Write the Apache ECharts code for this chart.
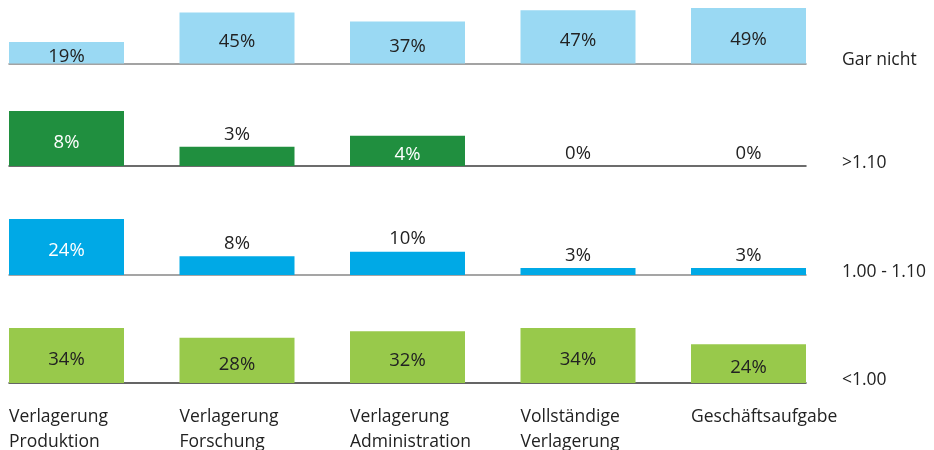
<!DOCTYPE html>
<html><head><meta charset="utf-8">
<script src="https://cdn.jsdelivr.net/npm/echarts@6/dist/echarts.min.js"></script>
<style>html,body{margin:0;padding:0;background:#fff}#c{width:934px;height:450px}</style>
</head><body><div id="c"></div>
<script>
const categories = ['Verlagerung Produktion','Verlagerung Forschung','Verlagerung Administration','Vollständige Verlagerung','Geschäftsaufgabe'];
const rowNames = ['Gar nicht','>1.10','1.00 - 1.10','<1.00'];
const garNicht = [19, 45, 37, 47, 49];
const ueber110 = [8, 2.8, 4.4, 0, 0];
const von100bis110 = [24, 8, 10, 3, 3];
const unter100 = [34, 28, 32, 34, 24];
const rowValues = [garNicht, ueber110, von100bis110, unter100];

const FONT = '"Open Sans", sans-serif';
const TEXT = '#222222';
const rowStyle = [
  {color:'#9ad9f3', line:'#858585', dark:false, top:8,   height:55.5},
  {color:'#208f3f', line:'#3d3d3d', dark:true,  top:111, height:55},
  {color:'#00a9e6', line:'#888888', dark:true,  top:219, height:56},
  {color:'#98c94b', line:'#333333', dark:false, top:328, height:55}
];
const GRID_LEFT = 9, GRID_WIDTH = 797, BAR_W = 115;
const n = categories.length;
const half = (BAR_W / 2) / ((GRID_WIDTH - BAR_W) / (n - 1));

const grid = [], xAxis = [], yAxis = [], series = [];
rowValues.forEach((vals, r) => {
  const st = rowStyle[r];
  const max = Math.max(...vals);
  const last = r === rowValues.length - 1;
  grid.push({left: GRID_LEFT, width: GRID_WIDTH, top: st.top, height: st.height, outerBoundsMode: 'none', containLabel: false});
  xAxis.push({
    type: 'value', gridIndex: r, min: -half, max: (n - 1) + half,
    axisLine: {show: true, onZero: false, lineStyle: {color: st.line, width: 1.5}},
    axisTick: {show: false}, splitLine: {show: false},
    axisLabel: last ? {
      show: true,
      customValues: categories.map((_, i) => i - half),
      formatter: (v) => categories[Math.round(v + half)].replace(' ', '\n'),
      align: 'left', margin: 22, fontSize: 17.5, lineHeight: 25,
      fontFamily: FONT, color: TEXT
    } : {show: false}
  });
  yAxis.push({
    type: 'value', gridIndex: r, min: 0, max: max, position: 'right', offset: 36,
    axisLine: {show: false, onZero: false}, axisTick: {show: false}, axisLabel: {show: false}, splitLine: {show: false},
    name: rowNames[r], nameLocation: 'start', nameGap: 0,
    nameTextStyle: {align: 'left', verticalAlign: 'bottom', fontSize: 17.5, fontFamily: FONT, color: TEXT, padding: [0, 0, -6, 0]}
  });
  series.push({
    type: 'bar', xAxisIndex: r, yAxisIndex: r, barWidth: BAR_W,
    itemStyle: {color: st.color},
    label: {show: true, fontSize: 18.5, fontFamily: FONT, formatter: p => Math.round(p.value[1]) + '%'},
    data: vals.map((v, i) => {
      const inside = !st.dark || v >= max * 0.5;
      return {
        value: [i, v],
        label: inside
          ? {position: 'inside', color: st.dark ? '#ffffff' : TEXT, offset: [0, 4]}
          : {position: 'top', distance: 3, color: TEXT}
      };
    })
  });
});

const chart = echarts.init(document.getElementById('c'), null, {renderer: 'canvas'});
chart.setOption({animation: false, backgroundColor: '#ffffff', grid, xAxis, yAxis, series});
</script>
</body></html>
